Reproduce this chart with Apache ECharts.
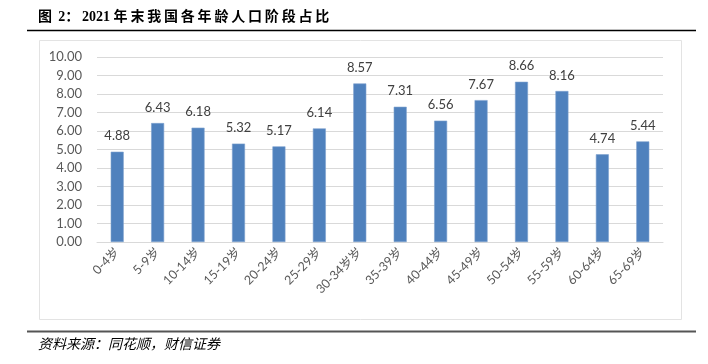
<!DOCTYPE html>
<html>
<head>
<meta charset="utf-8">
<script src="https://cdn.jsdelivr.net/npm/echarts@6/dist/echarts.min.js"></script>
<style>
  html, body { margin: 0; padding: 0; background: #fff; }
  #main { width: 708px; height: 364px; }
</style>
</head>
<body>
<div id="main"></div>
<script>
var categories = ['0-4岁', '5-9岁', '10-14岁', '15-19岁', '20-24岁', '25-29岁', '30-34岁岁',
    '35-39岁', '40-44岁', '45-49岁', '50-54岁', '55-59岁', '60-64岁', '65-69岁'];
var shares = [4.88, 6.43, 6.18, 5.32, 5.17, 6.14, 8.57, 7.31, 6.56, 7.67, 8.66, 8.16, 4.74, 5.44];
var yTicks = { min: 0, max: 10, interval: 1 };

var titleText = '图 2：2021 年末我国各年龄人口阶段占比';
var sourceText = '资料来源：同花顺，财信证券';

// thin space after each CJK glyph, like the report's typeset caption (digits stay tight)
function spaced(s) {
    return s.replace(/([\u3000-\u9fff\uff00-\uffef])/g, '$1\u2009');
}

var myChart = echarts.init(document.getElementById('main'));
var labelFont = 'Lato, "Noto Sans CJK SC", sans-serif';
var option = {
    animation: false,
    grid: { left: 97, right: 45, top: 57, bottom: 122 },
    xAxis: {
        type: 'category',
        data: categories,
        axisLine: { lineStyle: { color: '#d9d9d9' } },
        axisTick: { show: false },
        axisLabel: {
            rotate: 45,
            interval: 0,
            color: '#595959',
            fontSize: 12.5,
            fontFamily: labelFont,
            margin: 8
        }
    },
    yAxis: {
        type: 'value',
        min: yTicks.min,
        max: yTicks.max,
        interval: yTicks.interval,
        axisLine: { show: false },
        axisTick: { show: false },
        splitLine: { lineStyle: { color: '#d9d9d9' } },
        axisLabel: {
            color: '#595959',
            fontSize: 13,
            fontFamily: labelFont,
            margin: 15,
            formatter: function (v) { return v.toFixed(2); }
        }
    },
    series: [{
        type: 'bar',
        data: shares,
        barWidth: 13,
        itemStyle: { color: '#4f81bd', borderColor: '#7ea1cf', borderWidth: 0.6 },
        label: {
            show: true,
            position: 'top',
            distance: 9,
            color: '#404040',
            fontSize: 13,
            fontFamily: labelFont,
            formatter: function (p) { return p.value.toFixed(2); }
        }
    }],
    graphic: [
        {
            type: 'text', left: 38, top: 10,
            style: {
                text: spaced(titleText), fill: '#000',
                font: 'bold 14px "Liberation Serif", "Noto Sans CJK SC", serif'
            }
        },
        { type: 'line', shape: { x1: 27, y1: 30.5, x2: 696, y2: 30.5 }, style: { stroke: '#000', lineWidth: 1.5 } },
        { type: 'rect', shape: { x: 39.5, y: 40.5, width: 642, height: 279 }, style: { fill: 'none', stroke: '#e3e3e3', lineWidth: 1 } },
        { type: 'line', shape: { x1: 27, y1: 331.5, x2: 696, y2: 331.5 }, style: { stroke: '#555', lineWidth: 2 } },
        {
            type: 'text', left: 38, top: 337,
            style: {
                text: sourceText, fill: '#000',
                font: 'italic 14px "Noto Sans CJK SC", sans-serif'
            }
        }
    ]
};
myChart.setOption(option);
</script>
</body>
</html>
